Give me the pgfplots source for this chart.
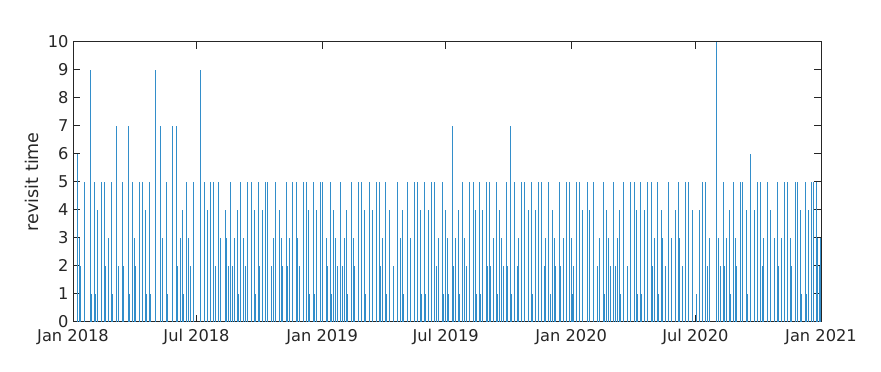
\documentclass[border=0pt]{standalone}
\usepackage{fontspec}
\setmainfont{DejaVu Sans}
\usepackage{pgfplots}
\pgfplotsset{compat=1.18}
\definecolor{mblue}{HTML}{0072BD}
\definecolor{mgray}{HTML}{262626}

% day since 1 Jan 2018, revisit time in days
\pgfplotstableread{
day val
6 6
9 3
11 2
16 5
25 9
27 1
31 5
33 1
36 4
41 5
46 5
48 2
52 3
56 5
58 1
64 7
66 2
72 5
74 2
81 7
82 1
87 5
90 3
91 2
97 5
102 5
106 4
107 1
112 5
113 1
121 9
128 7
131 3
137 5
138 1
145 7
152 7
153 2
157 3
161 4
162 1
166 5
169 3
172 2
176 5
186 9
187 1
192 5
193 1
197 4
201 5
206 5
208 2
213 5
216 3
223 4
225 3
227 2
231 5
234 2
237 3
241 4
242 1
246 5
250 3
252 2
256 5
261 5
266 4
267 1
271 5
273 2
277 4
282 5
285 5
290 2
293 3
296 5
297 1
302 4
305 3
307 2
312 5
314 2
317 3
322 5
327 5
329 3
331 2
337 5
342 5
345 4
347 1
352 5
353 1
357 4
362 5
366 5
371 3
373 2
377 5
378 1
381 4
384 3
387 2
392 5
394 2
397 3
401 4
402 1
408 5
411 3
413 2
418 5
422 5
427 4
428 1
434 5
435 1
439 4
444 5
449 5
450 2
454 3
458 5
459 1
464 4
469 2
475 5
479 3
483 4
484 1
490 5
494 2
495 3
500 5
504 5
505 2
509 4
510 1
515 5
517 1
521 4
525 5
530 5
532 2
536 3
541 5
542 1
545 4
549 3
550 1
556 7
557 2
561 3
565 4
566 1
570 5
574 3
576 2
581 5
586 5
590 4
591 1
596 5
597 1
600 4
606 5
607 2
610 5
612 2
616 3
621 5
622 1
625 4
628 3
630 2
635 5
637 2
641 7
642 1
647 5
651 2
652 3
657 5
661 5
662 1
667 4
672 5
673 1
678 4
682 5
687 5
690 2
692 3
697 5
699 1
703 4
705 3
707 2
712 5
714 2
718 3
723 5
727 5
730 3
732 1
733 2
737 5
742 5
746 4
747 1
753 5
757 4
762 5
763 2
769 2
772 3
777 5
778 1
782 4
785 3
787 2
792 5
795 2
797 3
801 4
802 1
807 5
812 2
817 5
822 5
826 4
827 1
832 5
833 1
837 4
842 5
847 5
849 2
852 3
857 5
858 1
862 4
864 3
868 2
872 5
877 3
882 4
883 1
887 5
889 3
893 2
897 5
902 5
907 4
908 1
913 1
918 4
922 5
927 5
929 2
932 3
943 10
946 3
948 2
953 5
954 2
958 3
962 4
963 1
967 5
970 3
972 2
978 5
981 5
987 4
988 1
993 6
998 4
1003 5
1007 5
1010 2
1012 3
1017 5
1018 1
1022 4
1027 3
1028 2
1032 5
1034 2
1038 3
1042 5
1047 5
1051 3
1052 2
1058 5
1062 5
1066 4
1067 1
1073 5
1074 1
1077 4
1082 5
1085 5
1089 5
1091 3
1093 2
1095 3
}\revisit

\begin{document}
\begin{tikzpicture}
\path[use as bounding box] (-73bp,-50.3bp) rectangle (808bp,321.7bp);
\begin{axis}[
  scale only axis,
  width=748bp, height=280bp,
  xmin=0, xmax=1096,
  ymin=0, ymax=10,
  xtick={0,181,365,546,730,912,1096},
  xticklabels={Jan 2018,Jul 2018,Jan 2019,Jul 2019,Jan 2020,Jul 2020,Jan 2021},
  ytick={0,1,...,10},
  tick align=inside,
  major tick length=7bp,
  axis line style={mgray, line width=0.6bp},
  every tick/.style={mgray, line width=0.6bp},
  tick label style={font=\fontsize{16.3}{19}\selectfont, text=mgray},
  xticklabel style={yshift=-4bp},
  yticklabel style={xshift=-1bp},
  /pgf/number format/assume math mode=true,
  ylabel={revisit time},
  ylabel style={at={(axis description cs:-0.0461,0.5)}, anchor=south,
    inner sep=0pt, font=\fontsize{17.6}{20}\selectfont, text=mgray},
  clip=true,
]
\addplot[ycomb, mblue!80, line width=0.8bp, mark=none] table[x=day, y=val] {\revisit};
\node[anchor=base west, inner sep=0pt, font=\fontsize{16.3}{19}\selectfont, text=mgray]
  at (rel axis cs:0,1.018) {days};
\end{axis}
\end{tikzpicture}
\end{document}
